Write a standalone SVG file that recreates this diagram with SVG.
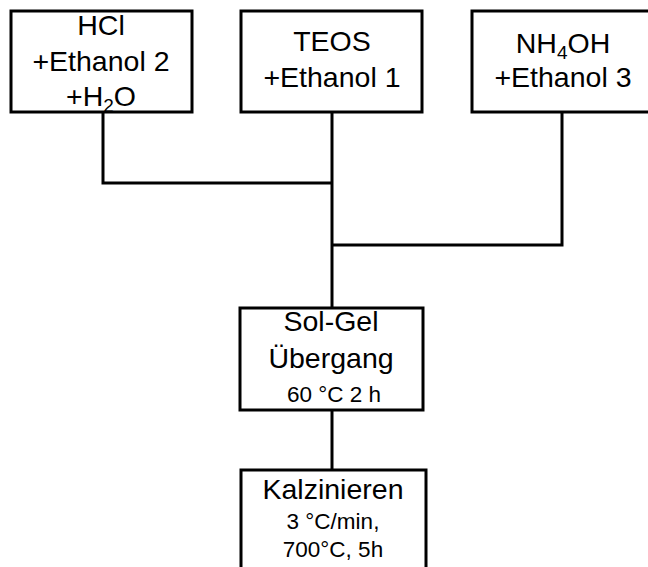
<svg xmlns="http://www.w3.org/2000/svg" width="648" height="567" viewBox="0 0 648 567">
  <style>
    .box { fill: #ffffff; stroke: #000000; stroke-width: 3; }
    .wire { fill: none; stroke: #000000; stroke-width: 3; stroke-linejoin: miter; }
    .lbl { font-family: "Liberation Sans", Arial, sans-serif; font-size: 28.5px; fill: #000000; text-anchor: middle; }
    .small { font-size: 22.5px; }
    .sub { font-size: 19px; }
  </style>
  <rect width="648" height="567" fill="#ffffff"/>

  <!-- connectors -->
  <g id="connectors">
    <path class="wire" d="M103,112 V183 H332"/>
    <path class="wire" d="M332,112 V308"/>
    <path class="wire" d="M562,112 V245 H332"/>
    <path class="wire" d="M332,410 V470"/>
  </g>

  <g id="hcl">
    <rect class="box" x="11" y="11" width="181" height="101"/>
    <text class="lbl" x="101" y="35">HCl</text>
    <text class="lbl" x="101" y="71">+Ethanol 2</text>
    <text class="lbl" x="101" y="106">+H<tspan class="sub" dy="6">2</tspan><tspan dy="-6">O</tspan></text>
  </g>

  <g id="teos">
    <rect class="box" x="241" y="11" width="181" height="101"/>
    <text class="lbl" x="332" y="51">TEOS</text>
    <text class="lbl" x="332" y="87">+Ethanol 1</text>
  </g>

  <g id="nh4oh">
    <rect class="box" x="472" y="11" width="200" height="101"/>
    <text class="lbl" x="563" y="53">NH<tspan class="sub" dy="6">4</tspan><tspan dy="-6">OH</tspan></text>
    <text class="lbl" x="563" y="87">+Ethanol 3</text>
  </g>

  <g id="solgel">
    <rect class="box" x="240" y="308" width="183" height="102"/>
    <text class="lbl" x="331" y="331">Sol-Gel</text>
    <text class="lbl" x="331" y="368">Übergang</text>
    <text class="lbl small" x="334" y="402">60 °C 2 h</text>
  </g>

  <g id="kalzinieren">
    <rect class="box" x="241" y="470" width="185" height="120"/>
    <text class="lbl" x="333" y="499">Kalzinieren</text>
    <text class="lbl small" x="333" y="529">3 °C/min,</text>
    <text class="lbl small" x="333" y="557">700°C, 5h</text>
  </g>
</svg>
